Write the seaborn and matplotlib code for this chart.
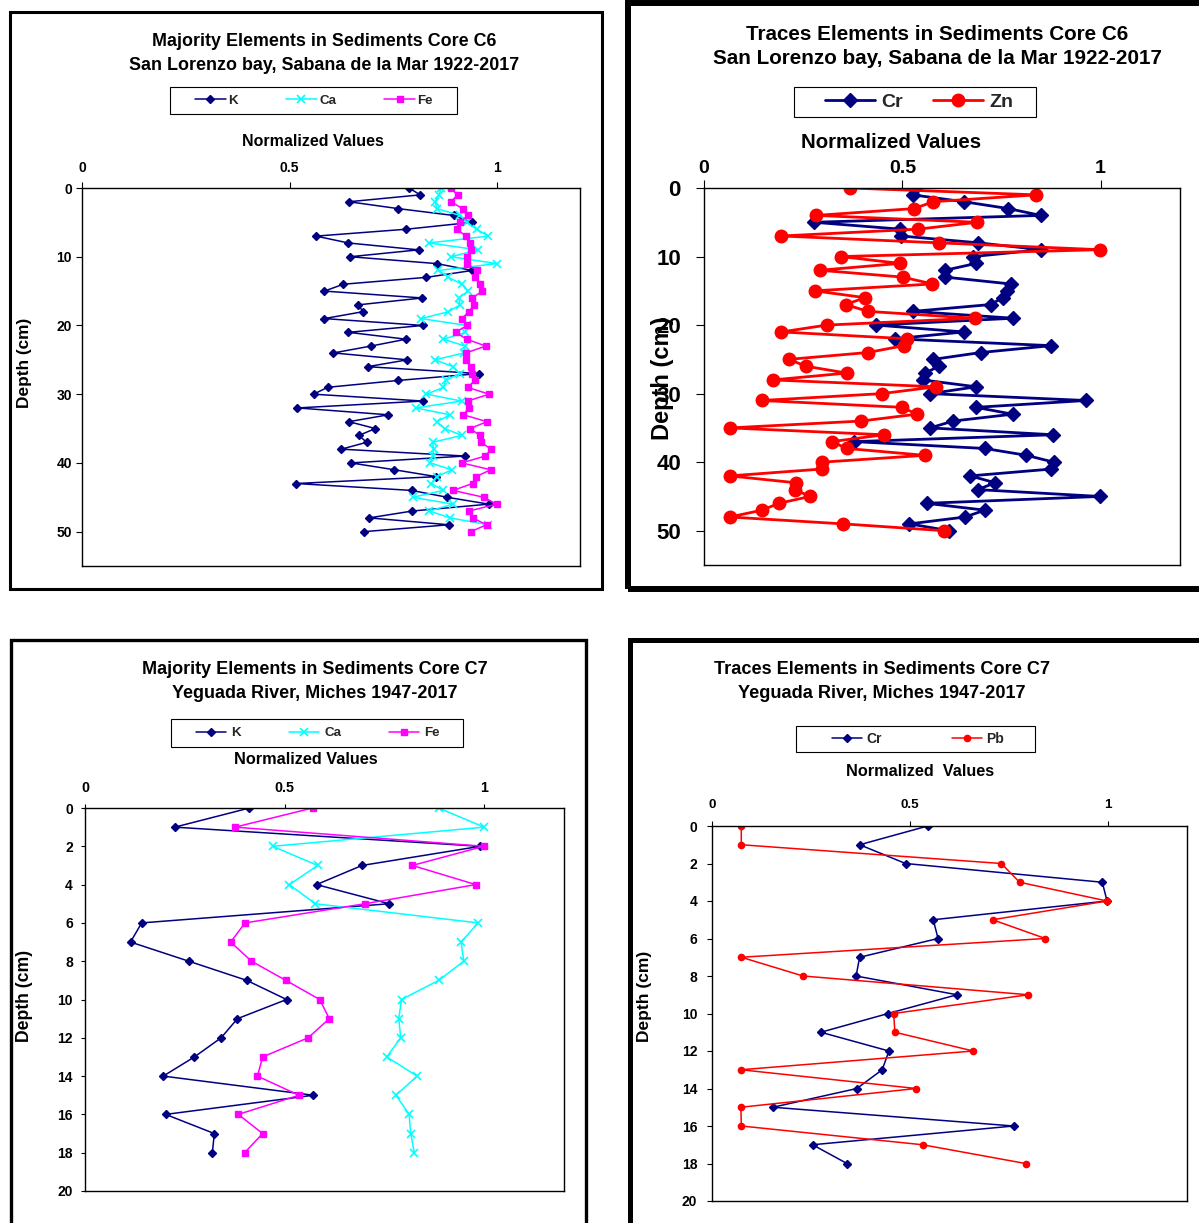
import matplotlib
matplotlib.use("Agg")
import matplotlib.pyplot as plt
import seaborn as sns
import pandas as pd
from matplotlib.patches import Rectangle

sns.set_theme(style="white")
plt.rcParams["font.family"] = ["Liberation Sans", "DejaVu Sans"]
plt.rcParams["font.weight"] = "bold"

# ---------------- data ----------------
c6_depth = [0, 1, 2, 3, 4, 5, 6, 7, 8, 9, 10, 11, 12, 13, 14, 15, 16, 17, 18, 19,
            20, 21, 22, 23, 24, 25, 26, 27, 28, 29, 30, 31, 32, 33, 34, 35, 36, 37,
            38, 39, 40, 41, 42, 43, 44, 45, 46, 47, 48, 49, 50]
c6_K = [0.788, 0.815, 0.643, 0.762, 0.896, 0.939, 0.781, 0.564, 0.642, 0.811,
        0.646, 0.855, 0.940, 0.830, 0.630, 0.584, 0.820, 0.666, 0.677, 0.584,
        0.822, 0.642, 0.781, 0.696, 0.606, 0.784, 0.688, 0.957, 0.762, 0.592,
        0.558, 0.822, 0.519, 0.738, 0.643, 0.707, 0.667, 0.686, 0.625, 0.923,
        0.648, 0.753, 0.854, 0.516, 0.794, 0.880, 0.980, 0.796, 0.692, 0.884,
        0.680]
c6_Ca = [0.865, 0.860, 0.851, 0.855, 0.911, 0.927, 0.951, 0.979, 0.836, 0.955,
         0.889, 1.000, 0.859, 0.883, 0.915, 0.930, 0.908, 0.911, 0.883, 0.817,
         0.927, 0.924, 0.871, 0.923, 0.920, 0.851, 0.894, 0.911, 0.876, 0.871,
         0.830, 0.915, 0.804, 0.887, 0.855, 0.874, 0.915, 0.845, 0.847, 0.845,
         0.839, 0.891, 0.855, 0.841, 0.871, 0.797, 0.894, 0.837, 0.887, 0.979]
c6_Fe = [0.888, 0.905, 0.889, 0.917, 0.929, 0.911, 0.903, 0.925, 0.935, 0.937,
         0.927, 0.927, 0.951, 0.947, 0.959, 0.965, 0.940, 0.945, 0.932, 0.915,
         0.928, 0.900, 0.927, 0.973, 0.925, 0.925, 0.937, 0.940, 0.947, 0.929,
         0.981, 0.929, 0.932, 0.919, 0.976, 0.935, 0.959, 0.961, 0.986, 0.972,
         0.915, 0.985, 0.949, 0.941, 0.894, 0.968, 0.999, 0.933, 0.941, 0.975,
         0.937]
c6_Cr = [0.532, 0.526, 0.655, 0.767, 0.849, 0.277, 0.494, 0.497, 0.692, 0.849,
         0.679, 0.686, 0.608, 0.608, 0.773, 0.765, 0.753, 0.723, 0.526, 0.780,
         0.434, 0.655, 0.481, 0.875, 0.698, 0.578, 0.593, 0.557, 0.551, 0.686,
         0.570, 0.963, 0.686, 0.778, 0.628, 0.570, 0.881, 0.379, 0.708, 0.813,
         0.882, 0.876, 0.671, 0.734, 0.690, 0.998, 0.561, 0.708, 0.658, 0.518,
         0.618]
c6_Zn = [0.368, 0.837, 0.578, 0.530, 0.282, 0.689, 0.540, 0.195, 0.592, 0.998,
         0.345, 0.494, 0.292, 0.501, 0.576, 0.279, 0.406, 0.357, 0.413, 0.682,
         0.309, 0.195, 0.513, 0.504, 0.413, 0.214, 0.257, 0.360, 0.173, 0.585,
         0.448, 0.145, 0.500, 0.536, 0.396, 0.065, 0.454, 0.322, 0.360, 0.557,
         0.297, 0.297, 0.065, 0.231, 0.229, 0.267, 0.189, 0.146, 0.065, 0.351,
         0.606]

c7_depth = [0, 1, 2, 3, 4, 5, 6, 7, 8, 9, 10, 11, 12, 13, 14, 15, 16, 17, 18]
c7_K = [0.412, 0.225, 0.990, 0.694, 0.580, 0.762, 0.142, 0.114, 0.260, 0.405,
        0.505, 0.382, 0.341, 0.274, 0.196, 0.572, 0.202, 0.324, 0.319]
c7_Ca = [0.886, 1.000, 0.470, 0.583, 0.512, 0.577, 0.985, 0.942, 0.949, 0.886,
         0.793, 0.786, 0.791, 0.756, 0.832, 0.779, 0.812, 0.816, 0.825]
c7_Fe = [0.570, 0.376, 0.999, 0.820, 0.979, 0.701, 0.401, 0.365, 0.417, 0.503,
         0.588, 0.612, 0.559, 0.445, 0.432, 0.536, 0.384, 0.445, 0.400]
c7_Cr = [0.545, 0.373, 0.489, 0.986, 0.998, 0.559, 0.571, 0.373, 0.364, 0.619,
         0.445, 0.275, 0.447, 0.430, 0.366, 0.154, 0.762, 0.254, 0.341]
c7_Pb = [0.074, 0.074, 0.731, 0.777, 0.998, 0.709, 0.842, 0.074, 0.230, 0.799,
         0.459, 0.462, 0.660, 0.073, 0.516, 0.073, 0.074, 0.532, 0.792]

x_ticks = [0, 0.5, 1]
x_tick_labels = ["0", "0.5", "1"]
c6_y_ticks = [0, 10, 20, 30, 40, 50]
c7_y_ticks = [0, 2, 4, 6, 8, 10, 12, 14, 16, 18, 20]

NAVY, CYAN, MAGENTA, RED = "#000080", "#00FFFF", "#FF00FF", "#FF0000"

# ---------------- figure ----------------
W, H = 1199, 1223
fig = plt.figure(figsize=(W / 100, H / 100), dpi=100, facecolor="white")


def add_axes(x0, y0, x1, y1):
    return fig.add_axes([x0 / W, 1 - y1 / H, (x1 - x0) / W, (y1 - y0) / H])


def frame(x0, y0, x1, y1, lw):
    fig.patches.append(Rectangle((x0 / W, 1 - y1 / H), (x1 - x0) / W, (y1 - y0) / H,
                                 transform=fig.transFigure, fill=False,
                                 edgecolor="black", linewidth=lw, zorder=0))


def ftext(x, y, s, size, rot=0):
    fig.text(x / W, 1 - y / H, s, ha="center", va="center", fontsize=size,
             fontweight="bold", rotation=rot, color="black")


def draw_series(ax, depth, vals, name, color, marker, ms, lw, mew=1.0):
    df = pd.DataFrame({"value": vals, "depth": depth[:len(vals)]})
    sns.lineplot(data=df, x="value", y="depth", sort=False, estimator=None,
                 orient="y", color=color, marker=marker, markersize=ms,
                 markeredgecolor=color, markerfacecolor=color,
                 markeredgewidth=mew, linewidth=lw, label=name, ax=ax, legend=False)


def style_axes(ax, ymax, yticks, xfs, yfs, xlen, xpad, ylen, ypad):
    ax.set_xlim(0, 1.2)
    ax.set_ylim(ymax, 0)
    ax.xaxis.tick_top()
    ax.set_xticks(x_ticks)
    ax.set_xticklabels(x_tick_labels)
    ax.set_yticks(yticks)
    ax.set_yticklabels([str(v) for v in yticks])
    ax.tick_params(axis="x", direction="out", length=xlen, width=0.8, pad=xpad,
                   labelsize=xfs, top=True, bottom=False, labeltop=True,
                   labelbottom=False, colors="black")
    ax.tick_params(axis="y", direction="out", length=ylen, width=0.8, pad=ypad,
                   labelsize=yfs, left=True, colors="black")
    for lab in ax.get_xticklabels() + ax.get_yticklabels():
        lab.set_fontweight("bold")
    for sp in ax.spines.values():
        sp.set_visible(True)
        sp.set_color("black")
        sp.set_linewidth(1.0)
    ax.set_xlabel("")
    ax.set_ylabel("")
    ax.grid(False)
    ax.set_facecolor("white")


def legend_box(ax, x0, y0, x1, y1, ncol, size, hl, htp, cs, cx):
    fig.patches.append(Rectangle((x0 / W, 1 - y1 / H), (x1 - x0) / W, (y1 - y0) / H,
                                 transform=fig.transFigure, fill=False,
                                 edgecolor="black", linewidth=0.8, zorder=0))
    ax.legend(loc="center", bbox_to_anchor=(cx / W, 1 - (y0 + y1) / 2 / H),
              bbox_transform=fig.transFigure, ncol=ncol, frameon=False,
              prop={"weight": "bold", "size": size}, handlelength=hl,
              handletextpad=htp, columnspacing=cs, borderpad=0, borderaxespad=0,
              numpoints=1)


# ---- frames ----
frame(10, 12, 602, 589, 2.2)
frame(628, 3, 1215, 589, 4.3)
frame(11, 640, 586, 1240, 2.4)
frame(630, 640, 1215, 1240, 3.6)

# ---- panel 1: C6 majority ----
ax1 = add_axes(82, 188, 580, 566)
draw_series(ax1, c6_depth, c6_K, "K", NAVY, "D", 4.5, 1.1)
draw_series(ax1, c6_depth, c6_Ca, "Ca", CYAN, "x", 6, 1.1, 1.2)
draw_series(ax1, c6_depth, c6_Fe, "Fe", MAGENTA, "s", 5, 1.1)
style_axes(ax1, 55, c6_y_ticks, 10, 10, 4, 5, 4.3, 3)
ftext(324, 42, "Majority Elements in Sediments Core C6", 12.9)
ftext(324, 66, "San Lorenzo bay, Sabana de la Mar 1922-2017", 12.9)
legend_box(ax1, 170, 87, 457, 114, 3, 9.6, 2.3, 0.2, 3.6, 314)
ftext(313, 141, "Normalized Values", 11.5)
ftext(25, 363, "Depth (cm)", 12.4, 90)

# ---- panel 2: C6 traces ----
ax2 = add_axes(704, 188, 1180, 565)
draw_series(ax2, c6_depth, c6_Cr, "Cr", NAVY, "D", 7, 2.0)
draw_series(ax2, c6_depth, c6_Zn, "Zn", RED, "o", 9, 2.0)
style_axes(ax2, 55, c6_y_ticks, 14, 16, 6, 2, 6, 10.6)
ftext(937, 34, "Traces Elements in Sediments Core C6", 14.9)
ftext(937, 58, "San Lorenzo bay, Sabana de la Mar 1922-2017", 14.9)
legend_box(ax2, 794, 87, 1036, 117, 2, 14, 2.6, 0.3, 1.55, 919)
ftext(891, 142, "Normalized Values", 14.7)
ftext(663, 378, "Depth (cm)", 17, 90)

# ---- panel 3: C7 majority ----
ax3 = add_axes(85, 808, 564, 1191)
draw_series(ax3, c7_depth, c7_K, "K", NAVY, "D", 4.5, 1.1)
draw_series(ax3, c7_depth, c7_Ca, "Ca", CYAN, "x", 6, 1.1, 1.2)
draw_series(ax3, c7_depth, c7_Fe, "Fe", MAGENTA, "s", 5, 1.1)
style_axes(ax3, 20, c7_y_ticks, 10.3, 10, 3, 6, 3, 5.8)
ftext(315, 670, "Majority Elements in Sediments Core C7", 13)
ftext(315, 694, "Yeguada River, Miches 1947-2017", 13)
legend_box(ax3, 171, 719, 463, 747, 3, 9.6, 2.25, 0.4, 3.6, 318)
ftext(306, 760, "Normalized Values", 11.7)
ftext(25, 996, "Depth (cm)", 12.7, 90)

# ---- panel 4: C7 traces ----
ax4 = add_axes(712, 826, 1187, 1201)
draw_series(ax4, c7_depth, c7_Cr, "Cr", NAVY, "D", 4.5, 1.1)
draw_series(ax4, c7_depth, c7_Pb, "Pb", RED, "o", 4.5, 1.1)
style_axes(ax4, 20, c7_y_ticks, 9.6, 10, 3.6, 7, 3.6, 7)
ftext(882, 669, "Traces Elements in Sediments Core C7", 13.1)
ftext(882, 693, "Yeguada River, Miches 1947-2017", 13.1)
legend_box(ax4, 796, 726, 1035, 752, 2, 10, 2.16, 0.3, 5.1, 918)
ftext(920, 772, "Normalized  Values", 11.7)
ftext(645, 996, "Depth (cm)", 12.5, 90)

fig.savefig("out.png", dpi=100, facecolor="white")
